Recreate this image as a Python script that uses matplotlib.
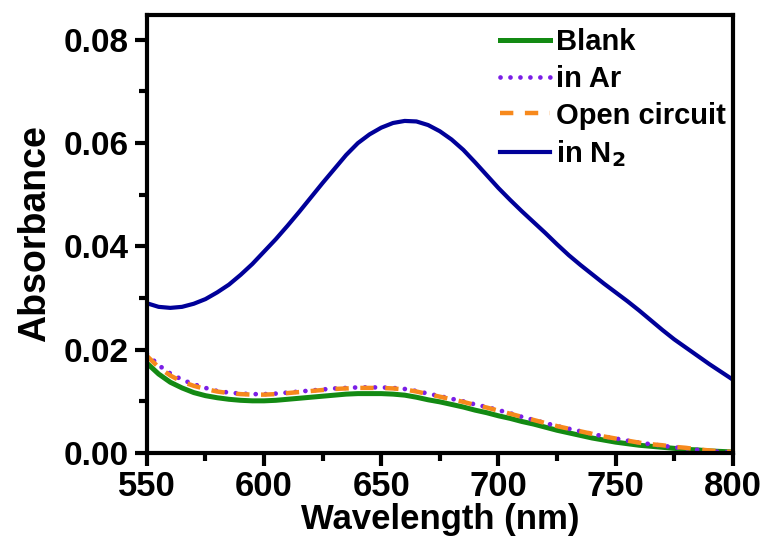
import matplotlib
matplotlib.use('Agg')
import matplotlib.pyplot as plt
from matplotlib.ticker import MultipleLocator

plt.rcParams['font.family'] = ['Liberation Sans', 'DejaVu Sans']
plt.rcParams['font.weight'] = 'bold'
plt.rcParams['mathtext.default'] = 'bf'

# wavelength (nm) and absorbance
wavelength = list(range(550, 801, 5))

blank = [0.0174, 0.0153, 0.0137, 0.0126, 0.0117, 0.0111, 0.0107, 0.0104, 0.0102, 0.0101,
         0.0101, 0.0102, 0.0104, 0.0106, 0.0108, 0.0110, 0.0112, 0.0114, 0.0115, 0.0115,
         0.0115, 0.0114, 0.0112, 0.0108, 0.0103, 0.0099, 0.0094, 0.0089, 0.0083, 0.0078,
         0.0072, 0.0067, 0.0061, 0.0056, 0.0050, 0.0044, 0.0039, 0.0034, 0.0029, 0.0025,
         0.0021, 0.0018, 0.0015, 0.0013, 0.0011, 0.0009, 0.0007, 0.0006, 0.0004, 0.0003,
         0.0002]

in_ar = [0.0192, 0.0170, 0.0154, 0.0142, 0.0133, 0.0126, 0.0120, 0.0117, 0.0115, 0.0114,
         0.0114, 0.0115, 0.0117, 0.0119, 0.0121, 0.0123, 0.0125, 0.0126, 0.0127, 0.0127,
         0.0127, 0.0126, 0.0124, 0.0120, 0.0115, 0.0110, 0.0105, 0.0100, 0.0094, 0.0089,
         0.0083, 0.0077, 0.0070, 0.0064, 0.0058, 0.0052, 0.0047, 0.0042, 0.0037, 0.0032,
         0.0028, 0.0024, 0.0020, 0.0017, 0.0014, 0.0011, 0.0009, 0.0006, 0.0004, 0.0002,
         0.0001]

open_circuit = [0.0188, 0.0166, 0.0150, 0.0138, 0.0130, 0.0124, 0.0119, 0.0116, 0.0114, 0.0113,
                0.0113, 0.0114, 0.0116, 0.0118, 0.0120, 0.0122, 0.0124, 0.0125, 0.0126, 0.0126,
                0.0126, 0.0125, 0.0123, 0.0119, 0.0114, 0.0109, 0.0104, 0.0099, 0.0093, 0.0088,
                0.0082, 0.0076, 0.0070, 0.0064, 0.0058, 0.0052, 0.0047, 0.0042, 0.0037, 0.0032,
                0.0028, 0.0024, 0.0020, 0.0017, 0.0015, 0.0012, 0.0010, 0.0007, 0.0005, 0.0003,
                0.0002]

in_n2 = [0.0290, 0.0283, 0.0281, 0.0283, 0.0289, 0.0298, 0.0311, 0.0326, 0.0345, 0.0366,
         0.0390, 0.0414, 0.0440, 0.0467, 0.0495, 0.0523, 0.0550, 0.0577, 0.0600, 0.0617,
         0.0630, 0.0639, 0.0643, 0.0642, 0.0635, 0.0623, 0.0607, 0.0587, 0.0563, 0.0538,
         0.0513, 0.0490, 0.0468, 0.0447, 0.0426, 0.0404, 0.0383, 0.0364, 0.0346, 0.0328,
         0.0311, 0.0294, 0.0276, 0.0257, 0.0238, 0.0220, 0.0204, 0.0188, 0.0172, 0.0157,
         0.0142]

labels = ['Blank', 'in Ar', 'Open circuit', r'in N$_2$']

fig = plt.figure(figsize=(7.69, 5.38), dpi=100)
ax = fig.add_axes([0.191, 0.158, 0.762, 0.814])

ax.plot(wavelength, blank, color='#138a13', lw=3.6, label=labels[0])
ax.plot(wavelength, in_ar, color='#7a1ee6', lw=3.4, linestyle=(0, (0.01, 2.1)),
        dash_capstyle='round', label=labels[1])
ax.plot(wavelength, open_circuit, color='#f7891c', lw=3.2, linestyle=(0, (3, 2.6)),
        label=labels[2])
ax.plot(wavelength, in_n2, color='#000099', lw=3.0, label=labels[3])

ax.set_xlim(550, 800)
ax.set_ylim(0, 0.0848)
ax.xaxis.set_major_locator(MultipleLocator(50))
ax.xaxis.set_minor_locator(MultipleLocator(25))
ax.yaxis.set_major_locator(MultipleLocator(0.02))
ax.yaxis.set_minor_locator(MultipleLocator(0.01))
ax.set_yticklabels(['%.2f' % v for v in ax.get_yticks()])

for s in ax.spines.values():
    s.set_linewidth(3)
ax.tick_params(which='major', direction='out', length=9, width=3, pad=4)
ax.tick_params(which='minor', direction='out', length=6, width=3)
ax.tick_params(axis='x', labelsize=25, pad=3)
ax.tick_params(axis='y', labelsize=24)
ax.tick_params(top=False, right=False)

ax.set_xlabel('Wavelength (nm)', fontsize=25, fontweight='bold', labelpad=0)
ax.set_ylabel('Absorbance', fontsize=27, fontweight='bold', labelpad=8)

ax.legend(loc='upper right', frameon=False, fontsize=21, handlelength=1.7,
          handletextpad=0.2, labelspacing=0.3, borderpad=0.1, borderaxespad=0.15,
          bbox_to_anchor=(1.0, 0.987))

fig.savefig('out.png', dpi=100)
